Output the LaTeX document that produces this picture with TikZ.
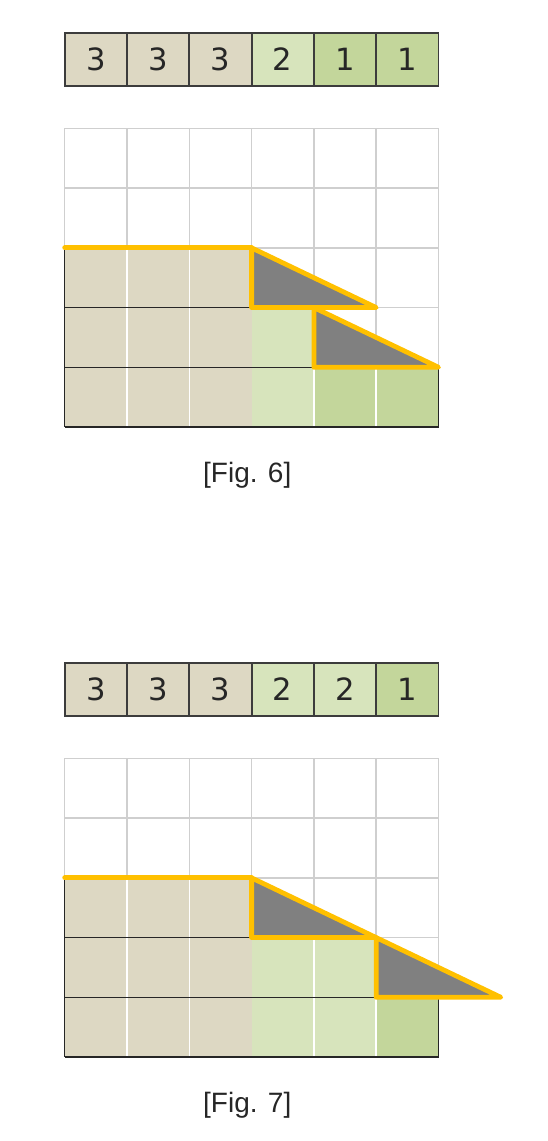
\documentclass[tikz,border=0pt]{standalone}
\usepackage{fontspec}
\newfontfamily\digitfont{DejaVu Sans}
\newfontfamily\labelfont{Liberation Sans}

\definecolor{tanfill}{HTML}{DDD8C3}
\definecolor{palegreen}{HTML}{D7E4BC}
\definecolor{leafgreen}{HTML}{C3D69B}
\definecolor{gridgray}{HTML}{CFCFCF}
\definecolor{amber}{HTML}{FFC000}
\definecolor{stripline}{HTML}{3C3C3C}

\tikzset{
    cellbox/.style={draw=stripline, line width=1.4pt, minimum width=46.7pt,
        minimum height=39.3pt, inner sep=0pt, text=black!85,
        font=\digitfont\fontsize{23}{27}\selectfont},
    figlabel/.style={anchor=base, text=black!85,
        font=\labelfont\fontsize{21}{25}\selectfont},
    gridline/.style={gridgray, line width=1.1pt},
    seam/.style={white, line width=1.1pt},
    edgeline/.style={black!85, line width=1.1pt},
    wedge/.style={fill=gray, draw=amber, line width=3.6pt, line join=round},
    amberline/.style={amber, line width=3.6pt, line cap=round}
}

\begin{document}
\begin{tikzpicture}[x=0.75pt, y=0.75pt]
    \useasboundingbox (0,0) rectangle (547,1141);

    % Fig. 6 (one column unit and one row unit per cell)
    \begin{scope}[shift={(64.7,714)}, x=46.725pt, y=44.775pt]
        % Background grid
        \foreach \c in {0,...,6} \draw[gridline] (\c,0) -- (\c,5);
        \foreach \r in {0,...,5} \draw[gridline] (0,\r) -- (6,\r);

        % Filled columns
        \foreach \c/\h/\col in {0/3/tanfill, 1/3/tanfill, 2/3/tanfill,
                                3/2/palegreen, 4/1/leafgreen, 5/1/leafgreen} {
            \fill[\col] (\c,0) rectangle (\c+1,\h);
        }
        \foreach \c/\h in {1/3, 2/3, 4/1, 5/1} \draw[seam] (\c,0) -- (\c,\h);

        % Layer boundaries
        \draw[edgeline] (0,2) -- (3,2);
        \draw[edgeline] (0,1) -- (4,1);
        \draw[edgeline] (0,0) -- (6,0);
        \draw[edgeline] (0,0) -- (0,3);
        \draw[edgeline] (6,0) -- (6,1);

        % Sliding wedges
        \filldraw[wedge] (3,3) -- (3,2) -- (5,2) -- cycle;
        \filldraw[wedge] (4,2) -- (4,1) -- (6,1) -- cycle;
        \draw[amberline] (0,3) -- (3,3);

        % Height strip
        \foreach \c/\v/\col in {0/3/tanfill, 1/3/tanfill, 2/3/tanfill,
                                3/2/palegreen, 4/1/leafgreen, 5/1/leafgreen} {
            \node[cellbox, fill=\col] (six\c) at (\c+0.5,6.156) {\v};
        }

        \node[figlabel] (figsix) at (2.93,-0.933) {[Fig. 6]};
    \end{scope}

    % Fig. 7
    \begin{scope}[shift={(64.7,84)}, x=46.725pt, y=44.775pt]
        % Background grid
        \foreach \c in {0,...,6} \draw[gridline] (\c,0) -- (\c,5);
        \foreach \r in {0,...,5} \draw[gridline] (0,\r) -- (6,\r);

        % Filled columns
        \foreach \c/\h/\col in {0/3/tanfill, 1/3/tanfill, 2/3/tanfill,
                                3/2/palegreen, 4/2/palegreen, 5/1/leafgreen} {
            \fill[\col] (\c,0) rectangle (\c+1,\h);
        }
        \foreach \c/\h in {1/3, 2/3, 4/2, 5/1} \draw[seam] (\c,0) -- (\c,\h);

        % Layer boundaries
        \draw[edgeline] (0,2) -- (3,2);
        \draw[edgeline] (0,1) -- (5,1);
        \draw[edgeline] (0,0) -- (6,0);
        \draw[edgeline] (0,0) -- (0,3);
        \draw[edgeline] (6,0) -- (6,1);

        % Sliding wedges
        \filldraw[wedge] (3,3) -- (3,2) -- (5,2) -- cycle;
        \filldraw[wedge] (5,2) -- (5,1) -- (7,1) -- cycle;
        \draw[amberline] (0,3) -- (3,3);

        % Height strip
        \foreach \c/\v/\col in {0/3/tanfill, 1/3/tanfill, 2/3/tanfill,
                                3/2/palegreen, 4/2/palegreen, 5/1/leafgreen} {
            \node[cellbox, fill=\col] (seven\c) at (\c+0.5,6.156) {\v};
        }

        \node[figlabel] (figseven) at (2.93,-0.933) {[Fig. 7]};
    \end{scope}
\end{tikzpicture}
\end{document}
